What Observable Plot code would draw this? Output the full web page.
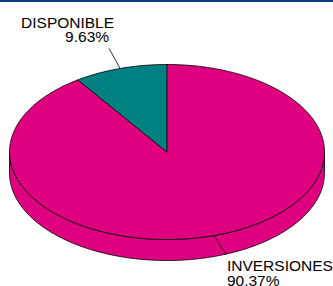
<!DOCTYPE html>
<html><head><meta charset="utf-8">
<script src="https://cdn.jsdelivr.net/npm/d3@7"></script>
<script src="https://cdn.jsdelivr.net/npm/@observablehq/plot@0.6"></script>
<style>
html,body{margin:0;padding:0;background:#fff;}
#wrap{position:relative;width:333px;height:286px;overflow:hidden;}
#bar{position:absolute;left:0;top:0;width:333px;height:2px;background:#0b3d7e;z-index:2;}
</style></head><body><div id="wrap"><div id="bar"></div></div>
<script>
// ---- data ----
const categories = ["DISPONIBLE", "INVERSIONES"];
const values = [9.63, 90.37];
const valueLabels = ["9.63%", "90.37%"];
const colors = ["#008080", "#df007f"];

// ---- layout ----
const W = 333, H = 286;
const X_RANGE = [9, 324], Y_RANGE = [64, 239];
const SX = (X_RANGE[1] - X_RANGE[0]) / 2, SY = (Y_RANGE[1] - Y_RANGE[0]) / 2;
const DEPTH = 21 / SY;
const labelLayout = [
  {lead: [-11, -20], name: {dx: 5, dy: -20, anchor: "end"}, pct: {dx: 0, dy: -6, anchor: "end"}},
  {lead: [12, 19], name: {dx: 1, dy: 16, anchor: "start"}, pct: {dx: 1, dy: 31, anchor: "start"}}
];
const FONT = "Liberation Sans, Arial, Helvetica, sans-serif";
const FONT_SIZE = 15.5;

const data = categories.map((c, i) => ({name: c, value: values[i], label: valueLabels[i], color: colors[i]}));
const total = d3.sum(values);
const a0 = values[0] / total * 2 * Math.PI;
const arcs = d3.pie().sort(null).value(d => d.value).startAngle(-a0).endAngle(2 * Math.PI - a0)(data);

const pt = (t, dz = 0) => ({x: Math.sin(t), y: -Math.cos(t) + dz});
function arcPts(a, b, dz = 0) {
  const n = Math.max(2, Math.ceil(Math.abs(b - a) / (Math.PI / 180)));
  return d3.range(n + 1).map(i => pt(a + (b - a) * i / n, dz));
}

const marks = [];
// side walls (front half only)
for (const arc of arcs) {
  for (const shift of [0, -2 * Math.PI, 2 * Math.PI]) {
    const lo = Math.max(arc.startAngle, Math.PI / 2 + shift);
    const hi = Math.min(arc.endAngle, 3 * Math.PI / 2 + shift);
    if (hi > lo) {
      const poly = arcPts(lo, hi, 0).concat(arcPts(hi, lo, DEPTH));
      marks.push(Plot.line(poly, {x: "x", y: "y", fill: arc.data.color, stroke: "#000", strokeWidth: 0.8, curve: "linear-closed"}));
    }
  }
}
// top faces
for (const arc of arcs) {
  const poly = [{x: 0, y: 0}].concat(arcPts(arc.startAngle, arc.endAngle, 0));
  marks.push(Plot.line(poly, {x: "x", y: "y", fill: arc.data.color, stroke: "#000", strokeWidth: 0.8, curve: "linear-closed", strokeLinejoin: "round"}));
}
// leader lines and labels
const labels = arcs.map((arc, i) => {
  const m = (arc.startAngle + arc.endAngle) / 2;
  const p = pt(m);
  const L = labelLayout[i];
  return {...arc.data, x1: p.x, y1: p.y, x2: p.x + L.lead[0] / SX, y2: p.y + L.lead[1] / SY, L};
});
marks.push(Plot.link(labels, {x1: "x1", y1: "y1", x2: "x2", y2: "y2", stroke: "#000", strokeWidth: 0.8}));
for (const d of labels) {
  marks.push(Plot.text([d], {x: "x2", y: "y2", text: "name", dx: d.L.name.dx, dy: d.L.name.dy, textAnchor: d.L.name.anchor, lineAnchor: "bottom", fontSize: FONT_SIZE, fontFamily: FONT, fill: "#000"}));
  marks.push(Plot.text([d], {x: "x2", y: "y2", text: "label", dx: d.L.pct.dx, dy: d.L.pct.dy, textAnchor: d.L.pct.anchor, lineAnchor: "bottom", fontSize: FONT_SIZE, fontFamily: FONT, fill: "#000"}));
}

const chart = Plot.plot({
  width: W, height: H,
  marginTop: 0, marginRight: 0, marginBottom: 0, marginLeft: 0,
  x: {domain: [-1, 1], range: X_RANGE, axis: null},
  y: {domain: [-1, 1], range: Y_RANGE, axis: null},
  style: {background: "#fff", fontFamily: FONT},
  marks
});
document.getElementById("wrap").appendChild(chart);
</script>
</body></html>
